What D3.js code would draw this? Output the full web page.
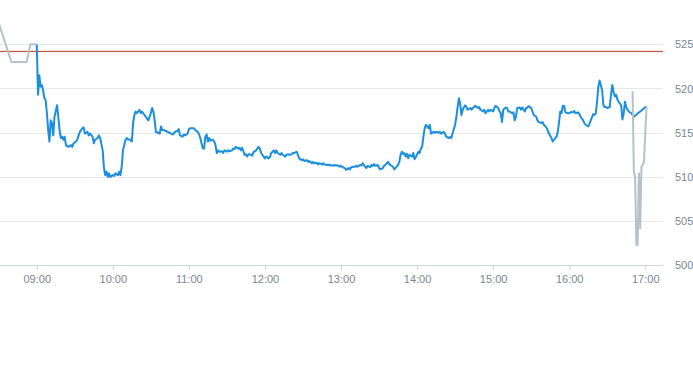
<!DOCTYPE html>
<html>
<head>
<meta charset="utf-8">
<script src="https://cdn.jsdelivr.net/npm/d3@7"></script>
<style>
  body { margin: 0; background: #fff; }
  svg { display: block; font-family: "Liberation Sans", Arial, Helvetica, sans-serif; }
</style>
</head>
<body>
<svg id="chart" width="693" height="365"></svg>
<script>
// regular session (blue)
var sessionTimes = [
  "09:00","09:01","09:02","09:03","09:04","09:05","09:06","09:07","09:08","09:09","09:10","09:11","09:12","09:13","09:14","09:16","09:17","09:18","09:19","09:20",
  "09:21","09:22","09:23","09:25","09:27","09:28","09:29","09:31","09:32","09:33","09:34","09:36","09:37","09:38","09:40","09:41","09:42","09:44","09:45","09:46",
  "09:48","09:49","09:50","09:52","09:53","09:54","09:55","09:56","09:57","09:58","10:00","10:01","10:02","10:04","10:05","10:06","10:07","10:08","10:10","10:11",
  "10:12","10:13","10:15","10:16","10:17","10:18","10:19","10:21","10:22","10:23","10:25","10:26","10:27","10:28","10:30","10:31","10:32","10:33","10:34","10:35",
  "10:37","10:38","10:39","10:40","10:42","10:43","10:44","10:46","10:47","10:48","10:49","10:51","10:52","10:53","10:55","10:56","10:57","10:59","11:00","11:01",
  "11:03","11:04","11:05","11:07","11:08","11:09","11:11","11:12","11:13","11:14","11:15","11:16","11:17","11:19","11:20","11:21","11:22","11:23","11:24","11:26",
  "11:27","11:28","11:30","11:31","11:32","11:34","11:35","11:36","11:37","11:39","11:40","11:41","11:42","11:44","11:45","11:46","11:47","11:49","11:50","11:51",
  "11:53","11:54","11:55","11:56","11:57","11:59","12:00","12:01","12:03","12:04","12:05","12:07","12:08","12:09","12:10","12:12","12:13","12:14","12:16","12:17",
  "12:18","12:20","12:21","12:22","12:23","12:25","12:26","12:27","12:29","12:30","12:31","12:33","12:34","12:35","12:37","12:38","12:39","12:41","12:42","12:43",
  "12:45","12:46","12:47","12:49","12:50","12:51","12:52","12:54","12:55","12:56","12:58","12:59","13:00","13:02","13:03","13:04","13:06","13:07","13:08","13:10",
  "13:11","13:12","13:13","13:15","13:16","13:17","13:19","13:20","13:21","13:23","13:24","13:25","13:26","13:27","13:29","13:30","13:31","13:33","13:34","13:35",
  "13:37","13:38","13:39","13:41","13:42","13:43","13:45","13:46","13:47","13:48","13:49","13:50","13:51","13:52","13:53","13:54","13:56","13:57","13:58","14:00",
  "14:01","14:02","14:03","14:04","14:05","14:06","14:07","14:09","14:10","14:11","14:13","14:14","14:15","14:17","14:18","14:19","14:21","14:22","14:23","14:25",
  "14:26","14:27","14:28","14:30","14:31","14:32","14:33","14:34","14:35","14:36","14:37","14:38","14:39","14:40","14:42","14:43","14:44","14:45","14:46","14:48",
  "14:49","14:50","14:52","14:53","14:54","14:56","14:57","14:58","15:00","15:01","15:02","15:04","15:05","15:06","15:07","15:08","15:10","15:11","15:12","15:13",
  "15:15","15:16","15:17","15:18","15:19","15:21","15:22","15:23","15:25","15:26","15:27","15:28","15:30","15:31","15:32","15:34","15:35","15:36","15:38","15:39",
  "15:40","15:42","15:43","15:44","15:46","15:47","15:48","15:50","15:51","15:52","15:53","15:54","15:55","15:56","15:57","15:59","16:00","16:01","16:03","16:04",
  "16:05","16:07","16:08","16:09","16:11","16:12","16:13","16:15","16:16","16:17","16:19","16:20","16:21","16:22","16:23","16:24","16:26","16:27","16:28","16:29",
  "16:30","16:32","16:33","16:34","16:35","16:36","16:37","16:38","16:39","16:40","16:41","16:42","16:43","16:44","16:45","16:46","16:47","16:49","16:50","16:51",
  "17:01"
];
var sessionPrices = [
  525.0,519.3,521.5,520.2,520.4,519.8,518.9,518.7,517.2,515.3,514.0,516.4,516.1,514.7,516.8,518.1,516.8,515.3,514.4,514.55,
  514.2,514.55,513.6,513.4,513.6,513.4,513.8,514.0,514.2,514.7,515.1,515.5,515.6,514.9,515.1,514.7,514.9,514.55,513.8,514.2,
  514.4,514.7,514.4,513.0,511.0,510.2,510.6,510.0,510.4,510.0,510.2,510.1,510.4,510.2,510.6,510.2,511.15,513.0,514.2,514.4,
  514.2,514.25,514.0,516.1,517.0,517.4,517.2,517.6,517.2,517.4,517.0,516.8,516.6,516.4,517.2,517.8,517.4,516.4,515.05,515.05,
  514.9,515.7,515.3,515.3,515.2,515.1,515.05,514.9,514.8,514.9,515.1,515.2,515.4,514.7,514.55,514.8,514.7,514.9,515.4,515.5,
  515.5,515.5,515.3,515.1,514.8,514.4,513.2,513.2,514.55,514.8,514.0,514.4,514.1,514.2,514.0,513.6,512.7,513.0,512.85,512.9,
  512.7,513.0,512.85,513.0,512.9,513.0,513.2,513.15,513.4,513.2,513.3,513.0,513.3,512.5,512.55,512.3,512.55,512.5,512.4,512.8,
  513.0,513.2,513.4,513.2,512.7,512.3,512.1,512.3,512.1,512.3,512.7,513.0,512.7,513.0,512.7,512.5,512.7,512.5,512.3,512.5,
  512.55,512.5,512.55,512.7,512.7,512.85,512.5,512.1,511.9,512.0,511.8,511.9,511.7,511.8,511.55,511.7,511.55,511.6,511.4,511.55,
  511.4,511.55,511.4,511.35,511.4,511.3,511.35,511.25,511.35,511.3,511.3,511.15,511.25,511.05,511.0,510.8,511.0,510.85,511.1,511.15,
  511.15,511.25,511.15,511.35,511.3,511.55,511.15,511.0,511.25,511.1,511.35,511.25,511.45,511.25,511.35,511.0,510.85,511.0,511.25,511.35,
  511.7,511.45,511.35,511.15,510.85,511.0,511.35,511.7,512.5,512.85,512.6,512.7,512.3,512.6,512.1,512.5,512.3,512.7,512.0,512.5,
  512.85,512.7,513.2,513.4,514.55,515.5,515.9,515.5,515.9,514.9,515.1,515.0,515.1,515.0,515.1,514.9,515.1,514.9,514.55,514.4,
  514.5,514.4,514.9,515.9,516.8,517.9,518.9,518.3,517.0,517.6,517.9,518.1,517.9,517.6,517.8,517.6,517.8,517.9,518.05,517.8,
  517.9,517.6,517.4,517.6,517.2,517.6,517.4,517.6,517.4,517.8,518.05,517.8,517.4,517.2,516.2,517.6,517.85,517.8,517.4,517.4,
  517.2,517.3,516.4,516.8,517.8,517.85,517.6,517.85,517.4,517.8,517.85,518.0,517.8,517.4,517.0,516.8,516.4,516.2,516.1,516.2,
  515.9,515.6,515.3,514.9,514.4,514.0,514.2,514.55,515.1,516.2,517.4,517.2,518.05,518.05,517.3,517.2,517.2,517.3,517.3,517.45,
  517.2,517.3,517.1,516.8,516.4,516.1,515.9,515.7,516.0,516.4,517.1,517.0,517.2,518.5,520.2,520.9,519.8,518.1,517.9,517.9,
  517.8,517.9,519.3,520.4,519.6,519.1,519.3,518.8,518.5,518.3,518.1,516.5,517.2,518.5,517.9,517.6,517.4,517.2,517.0,516.8,
  518.0
];

// pre-market and after-hours (grey)
var preTimes = ["08:30","08:40","08:52","08:55","09:00"];
var prePrices = [527.4,523.0,523.0,525.0,525.0];
var postTimes = ["16:50","16:51","16:52","16:53","16:54","16:55","16:56","16:57","16:59","17:01"];
var postPrices = [519.7,510.6,510.0,502.3,502.3,510.4,504.2,511.1,511.7,518.0];

var referencePrice = 524.2;
var yTicks = [500, 505, 510, 515, 520, 525];
var xTicks = ["09:00","10:00","11:00","12:00","13:00","14:00","15:00","16:00","17:00"];

function render() {
    var svg = d3.select("#chart");
    var parse = d3.timeParse("%H:%M");

    var plotW = 663;
    var ys = d3.scaleLinear().domain([500, 525]).range([265.3, 44.3]);
    // 09:00 sits at x=36.3, 76px per hour
    var t0 = parse("09:00");
    var xs = d3.scaleTime()
        .domain([d3.timeMinute.offset(t0, -28.66), d3.timeMinute.offset(t0, 494.8)])
        .range([0, plotW]);

    svg.append("defs").append("clipPath").attr("id", "plot")
        .append("rect").attr("x", 0).attr("y", 0).attr("width", plotW).attr("height", 266);

    // grid
    svg.append("g")
        .selectAll("line")
        .data(yTicks.filter(function(d) { return d > 500; }))
        .enter().append("line")
            .attr("x1", 0).attr("x2", plotW)
            .attr("y1", function(d) { return Math.round(ys(d)) + 0.5; })
            .attr("y2", function(d) { return Math.round(ys(d)) + 0.5; })
            .attr("stroke", "#e6e6e6");

    // right side labels
    var yAxis = d3.axisRight(ys).tickValues(yTicks).tickSize(0).tickPadding(12);
    var gy = svg.append("g").attr("transform", "translate(" + plotW + ",0)").call(yAxis);
    gy.select(".domain").remove();
    gy.selectAll("text").attr("fill", "#7a8591").style("font-size", "11px");

    var xAxis = d3.axisBottom(xs)
        .tickValues(xTicks.map(parse))
        .tickFormat(d3.timeFormat("%H:%M"))
        .tickSizeInner(5).tickSizeOuter(0).tickPadding(5);
    var gx = svg.append("g").attr("transform", "translate(0,265)").call(xAxis);
    gx.select(".domain").attr("stroke", "#ccd6eb").attr("d", "M0,0.5H" + plotW);
    gx.selectAll(".tick line").attr("stroke", "#ccd6eb");
    gx.selectAll("text").attr("fill", "#7a8591").style("font-size", "11px");

    // reference line
    svg.append("line")
        .attr("x1", 0).attr("x2", plotW)
        .attr("y1", ys(referencePrice)).attr("y2", ys(referencePrice))
        .attr("stroke", "#c0392b").attr("stroke-width", 1);

    var line = d3.line()
        .x(function(d) { return xs(d[0]); })
        .y(function(d) { return ys(d[1]); });

    function pairs(times, prices) {
        return times.map(function(t, i) { return [parse(t), prices[i]]; });
    }

    var lines = svg.append("g").attr("clip-path", "url(#plot)");

    lines.append("path")
        .datum(pairs(sessionTimes, sessionPrices))
        .attr("d", line)
        .attr("fill", "none")
        .attr("stroke", "#1a8fe0")
        .attr("stroke-width", 2)
        .attr("stroke-linejoin", "round");

    lines.selectAll(".ext")
        .data([pairs(preTimes, prePrices), pairs(postTimes, postPrices)])
        .enter().append("path")
            .attr("class", "ext")
            .attr("d", line)
            .attr("fill", "none")
            .attr("stroke", "#b5c2cc")
            .attr("stroke-width", 2)
            .attr("stroke-linejoin", "round");
}

render();
</script>
</body>
</html>
